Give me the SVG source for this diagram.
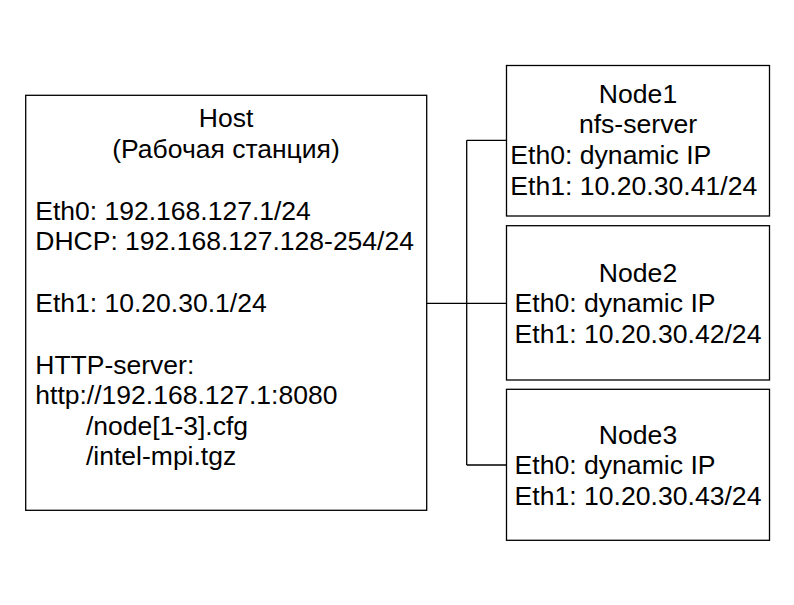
<svg xmlns="http://www.w3.org/2000/svg" width="794" height="605" viewBox="0 0 794 605">
<style>
.box{fill:#fff;stroke:#000;stroke-width:1.3}
.t{font-family:"Liberation Sans",Arial,sans-serif;font-size:26.5px;fill:#000}
.n{font-size:26.6px}
.c{text-anchor:middle}
.wire{fill:none;stroke:#000;stroke-width:1.3}
</style>
<rect width="794" height="605" fill="#fff"/>
<g id="connectors">
<path class="wire" d="M426 303.3H506.5M466.7 140.3V465M466.7 140.3H506.5M466.7 465H506.5"/>
</g>
<g id="host">
<rect class="box" x="25.7" y="95.3" width="401" height="415"/>
<text class="t c" x="226" y="127.3">Host</text>
<text class="t c" x="226" y="158.1">(Рабочая станция)</text>
<text class="t" x="35.3" y="219.5">Eth0: 192.168.127.1/24</text>
<text class="t" x="35.3" y="250.3">DHCP: 192.168.127.128-254/24</text>
<text class="t" x="35.3" y="311.9">Eth1: 10.20.30.1/24</text>
<text class="t" x="35.3" y="373.5">HTTP-server:</text>
<text class="t" x="35.3" y="404.3">http://192.168.127.1:8080</text>
<text class="t" x="86" y="434.5">/node[1-3].cfg</text>
<text class="t" x="86" y="464.5">/intel-mpi.tgz</text>
</g>
<g id="node1">
<rect class="box" x="506.5" y="65.5" width="263" height="150.5"/>
<text class="t n c" x="638" y="102.5">Node1</text>
<text class="t n c" x="638" y="133.3">nfs-server</text>
<text class="t n" x="510.3" y="164.1">Eth0: dynamic IP</text>
<text class="t n" x="510.3" y="194.9">Eth1: 10.20.30.41/24</text>
</g>
<g id="node2">
<rect class="box" x="506.5" y="225.7" width="263" height="154.3"/>
<text class="t n c" x="638" y="281.5">Node2</text>
<text class="t n" x="514.5" y="312">Eth0: dynamic IP</text>
<text class="t n" x="514.5" y="342.5">Eth1: 10.20.30.42/24</text>
</g>
<g id="node3">
<rect class="box" x="506.5" y="389.3" width="263" height="151"/>
<text class="t n c" x="638" y="443.5">Node3</text>
<text class="t n" x="514.5" y="474">Eth0: dynamic IP</text>
<text class="t n" x="514.5" y="504.5">Eth1: 10.20.30.43/24</text>
</g>
</svg>
